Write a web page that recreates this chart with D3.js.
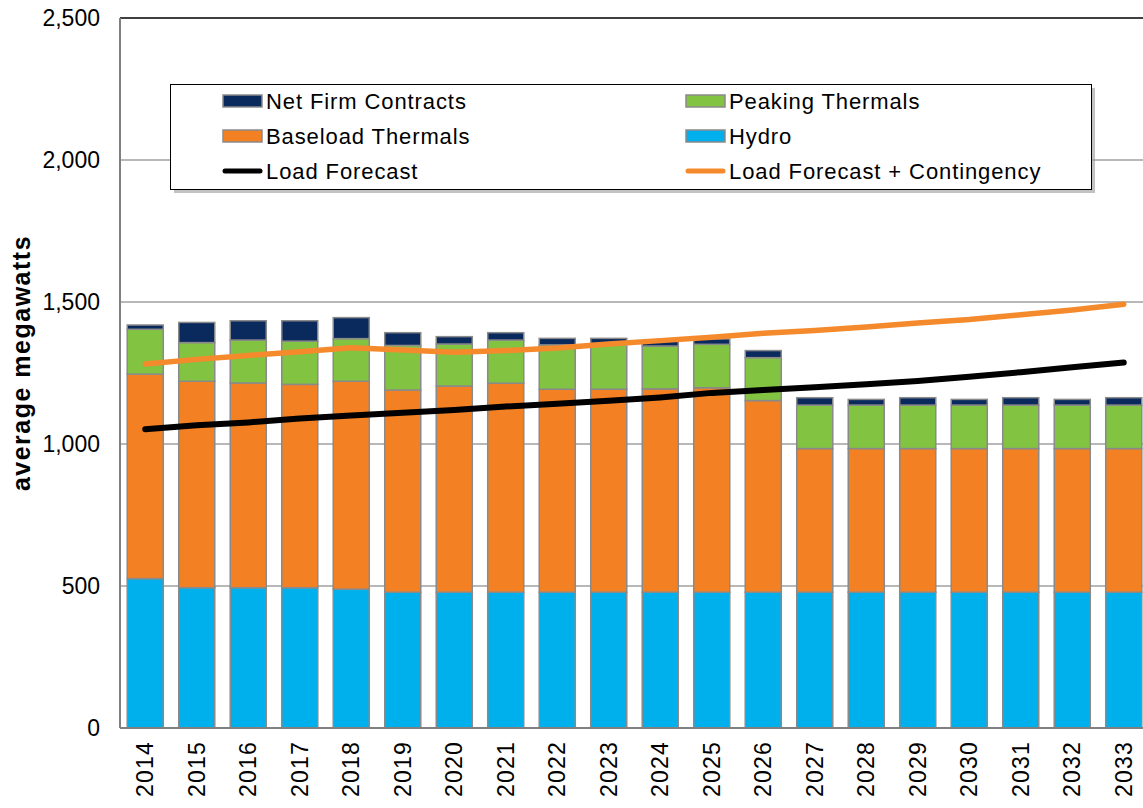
<!DOCTYPE html>
<html>
<head>
<meta charset="utf-8">
<script src="https://cdn.jsdelivr.net/npm/d3@7"></script>
<style>
  html, body { margin: 0; padding: 0; background: #fff; overflow: hidden; }
  svg { display: block; font-family: "Liberation Sans", Arial, sans-serif; }
</style>
</head>
<body>
<svg id="chart" width="1143" height="808"></svg>
<script>
const years = ["2014","2015","2016","2017","2018","2019","2020","2021","2022","2023","2024","2025","2026","2027","2028","2029","2030","2031","2032","2033"];
const hydro     = [526, 494, 494, 494, 489, 478, 478, 478, 478, 478, 478, 478, 478, 478, 478, 478, 478, 478, 478, 478];
const baseload  = [720, 727, 721, 716, 732, 712, 726, 736, 715, 715, 716, 720, 675, 506, 506, 506, 506, 506, 506, 506];
const peaking   = [158, 136, 151, 152, 150, 157, 148, 152, 156, 161, 151, 153, 151, 153, 153, 153, 153, 153, 153, 153];
const netFirm   = [15, 71, 68, 72, 74, 45, 26, 26, 23, 18, 20, 19, 25, 26, 20, 26, 20, 26, 20, 26];
const loadForecast = [1052, 1066, 1076, 1090, 1100, 1110, 1120, 1132, 1142, 1152, 1164, 1180, 1190, 1200, 1210, 1222, 1237, 1253, 1270, 1287];
const loadContingency = [1282, 1298, 1312, 1325, 1339, 1331, 1323, 1329, 1338, 1352, 1364, 1376, 1390, 1400, 1412, 1426, 1438, 1455, 1472, 1492];
const yTicks = [0, 500, 1000, 1500, 2000, 2500];

const seriesNames = ["Hydro", "Baseload Thermals", "Peaking Thermals", "Net Firm Contracts"];
const seriesValues = [hydro, baseload, peaking, netFirm];
const colors = {
  "Hydro": "#00b0ec",
  "Baseload Thermals": "#f38123",
  "Peaking Thermals": "#82c341",
  "Net Firm Contracts": "#0a2a5e"
};

const svg = d3.select("#chart");
const mLeft = 120, mRight = 1150, mTop = 18, mBottom = 728;

const x = d3.scaleBand().domain(years).range([mLeft - 0.5, mRight - 0.5]).paddingInner(0.3).paddingOuter(0.15);
const y = d3.scaleLinear().domain([0, 2500]).range([mBottom, mTop]);

// gridlines
svg.append("g").selectAll("line").data(yTicks.filter(d => d > 0 && d < 2500)).join("line")
  .attr("x1", mLeft).attr("x2", mRight).attr("y1", d => y(d)).attr("y2", d => y(d))
  .attr("stroke", "#a0a0a0").attr("stroke-width", 1.5);

// top border
svg.append("line").attr("x1", mLeft).attr("x2", mRight).attr("y1", y(2500)).attr("y2", y(2500))
  .attr("stroke", "#404040").attr("stroke-width", 2);

// stacked data
const table = years.map((yr, i) => {
  const o = { year: yr };
  seriesNames.forEach((n, k) => o[n] = seriesValues[k][i]);
  return o;
});
const stack = d3.stack().keys(seriesNames)(table);

svg.append("g").selectAll("g").data(stack).join("g")
  .attr("fill", d => colors[d.key])
  .selectAll("rect").data(d => d).join("rect")
  .attr("x", d => x(d.data.year))
  .attr("width", x.bandwidth())
  .attr("y", d => y(d[1]))
  .attr("height", d => y(d[0]) - y(d[1]))
  .attr("stroke", "#8a8a8a").attr("stroke-width", 1.5);

// axes lines
svg.append("line").attr("x1", mLeft).attr("x2", mLeft).attr("y1", mTop).attr("y2", mBottom)
  .attr("stroke", "#808080").attr("stroke-width", 2);
svg.append("line").attr("x1", mLeft).attr("x2", mRight).attr("y1", mBottom).attr("y2", mBottom)
  .attr("stroke", "#808080").attr("stroke-width", 2);

// lines
const line = d3.line().x((d, i) => x(years[i]) + x.bandwidth() / 2).y(d => y(d));
svg.append("path").datum(loadContingency).attr("d", line)
  .attr("fill", "none").attr("stroke", "#f58a2c").attr("stroke-width", 5.5).attr("stroke-linecap", "round").attr("stroke-linejoin", "round");
svg.append("path").datum(loadForecast).attr("d", line)
  .attr("fill", "none").attr("stroke", "#000").attr("stroke-width", 6).attr("stroke-linecap", "round").attr("stroke-linejoin", "round");

// y tick labels
svg.append("g").selectAll("text").data(yTicks).join("text")
  .attr("x", 100).attr("y", d => y(d) + 8)
  .attr("text-anchor", "end").attr("font-size", 23).attr("fill", "#000")
  .text(d => d3.format(",")(d));

// x tick labels
svg.append("g").selectAll("text").data(years).join("text")
  .attr("transform", d => `translate(${x(d) + x.bandwidth() / 2 + 8},741) rotate(-90)`)
  .attr("text-anchor", "end").attr("font-size", 23).attr("letter-spacing", 1.2).attr("fill", "#000")
  .text(d => d);

// y axis title
svg.append("text")
  .attr("transform", "translate(30,363) rotate(-90)")
  .attr("text-anchor", "middle").attr("font-size", 25).attr("font-weight", "bold").attr("letter-spacing", 1.5)
  .text("average megawatts");

// legend
const lg = svg.append("g");
lg.append("rect").attr("x", 174).attr("y", 88).attr("width", 921).attr("height", 105).attr("fill", "#9a9a9a").attr("opacity", 0.6);
lg.append("rect").attr("x", 170.5).attr("y", 84.5).attr("width", 921).attr("height", 105)
  .attr("fill", "#fff").attr("stroke", "#000").attr("stroke-width", 1);

const legendItems = [
  { name: "Net Firm Contracts", type: "rect", col: 0, row: 0 },
  { name: "Peaking Thermals", type: "rect", col: 1, row: 0 },
  { name: "Baseload Thermals", type: "rect", col: 0, row: 1 },
  { name: "Hydro", type: "rect", col: 1, row: 1 },
  { name: "Load Forecast", type: "line", col: 0, row: 2, color: "#000" },
  { name: "Load Forecast + Contingency", type: "line", col: 1, row: 2, color: "#f58a2c" }
];
const colX = [223, 686], rowY = [101, 136, 171];
legendItems.forEach(it => {
  const cx = colX[it.col], cy = rowY[it.row];
  if (it.type === "rect") {
    lg.append("rect").attr("x", cx).attr("y", cy - 6).attr("width", 39).attr("height", 12)
      .attr("fill", colors[it.name]).attr("stroke", "#8a8a8a").attr("stroke-width", 1.5);
  } else {
    lg.append("line").attr("x1", cx + 2).attr("x2", cx + 37).attr("y1", cy).attr("y2", cy)
      .attr("stroke", it.color).attr("stroke-width", 5).attr("stroke-linecap", "round");
  }
  lg.append("text").attr("x", cx + 43).attr("y", cy + 8)
    .attr("font-size", 22).attr("letter-spacing", 0.9).attr("fill", "#000")
    .text(it.name);
});
</script>
</body>
</html>
